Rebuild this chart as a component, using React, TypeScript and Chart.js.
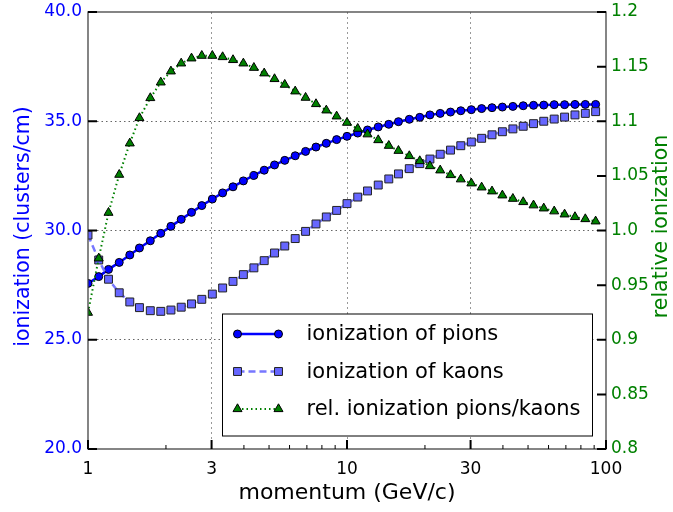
import React, { useEffect, useRef } from 'react';
import { Chart, registerables } from 'chart.js';

Chart.register(...registerables);

// momentum (GeV/c)
const momentum = [
  1.0, 1.1, 1.2, 1.32, 1.45, 1.58, 1.74, 1.91, 2.09, 2.29,
  2.51, 2.75, 3.02, 3.31, 3.63, 3.98, 4.37, 4.79, 5.25, 5.75,
  6.31, 6.92, 7.59, 8.32, 9.12, 10.0, 11.0, 12.0, 13.2, 14.5,
  15.8, 17.4, 19.1, 20.9, 22.9, 25.1, 27.5, 30.2, 33.1, 36.3,
  39.8, 43.7, 47.9, 52.5, 57.5, 63.1, 69.2, 75.9, 83.2, 91.2,
];

// ionization of pions (clusters/cm)
const pionIonization = [
  27.58, 27.89, 28.22, 28.54, 28.88, 29.2, 29.53, 29.87, 30.19, 30.51,
  30.83, 31.14, 31.44, 31.72, 32.0, 32.27, 32.52, 32.76, 33.0, 33.21,
  33.42, 33.62, 33.82, 33.99, 34.16, 34.31, 34.46, 34.6, 34.74, 34.86,
  34.98, 35.09, 35.18, 35.29, 35.36, 35.42, 35.48, 35.53, 35.58, 35.62,
  35.65, 35.68, 35.71, 35.73, 35.74, 35.76, 35.76, 35.77, 35.77, 35.77,
];

// ionization of kaons (clusters/cm)
const kaonIonization = [
  29.79, 28.65, 27.77, 27.15, 26.73, 26.47, 26.33, 26.3, 26.36, 26.49,
  26.64, 26.85, 27.09, 27.37, 27.67, 27.98, 28.29, 28.62, 28.97, 29.29,
  29.63, 29.96, 30.3, 30.62, 30.92, 31.23, 31.53, 31.81, 32.08, 32.36,
  32.59, 32.83, 33.06, 33.27, 33.49, 33.68, 33.88, 34.05, 34.22, 34.38,
  34.52, 34.65, 34.77, 34.89, 35.0, 35.1, 35.19, 35.29, 35.36, 35.44,
];

// relative ionization pions/kaons
const relativeIonization = [
  0.9248, 0.9745, 1.0163, 1.0511, 1.0798, 1.103, 1.1213, 1.1356, 1.1457, 1.153,
  1.1576, 1.16, 1.16, 1.1588, 1.1561, 1.153, 1.149, 1.1439, 1.1387, 1.1335,
  1.1274, 1.1216, 1.1158, 1.11, 1.1045, 1.0987, 1.0932, 1.0881, 1.0828, 1.0776,
  1.073, 1.0682, 1.0636, 1.059, 1.0551, 1.0508, 1.0469, 1.0432, 1.0395, 1.0359,
  1.0322, 1.0291, 1.0261, 1.0231, 1.0203, 1.0176, 1.0148, 1.0124, 1.0105, 1.0084,
];

const seriesLabels = ['ionization of pions', 'ionization of kaons', 'rel. ionization pions/kaons'];
const xMajorTicks = [1, 3, 10, 30, 100];
const xMinorTicks = [2, 4, 5, 6, 7, 8, 9, 20, 40, 50, 60, 70, 80, 90];
const leftTicks = [20, 25, 30, 35, 40];
const rightTicks = [0.8, 0.85, 0.9, 0.95, 1.0, 1.05, 1.1, 1.15, 1.2];

const FONT = '"DejaVu Sans", sans-serif';
const BLUE = '#0000ff';
const GREEN = '#008000';

function drawMarker(ctx: CanvasRenderingContext2D, style: string, r: number, x: number, y: number, fill: string, stroke: string, bw: number) {
  ctx.beginPath();
  if (style === 'circle') {
    ctx.arc(x, y, r, 0, Math.PI * 2);
  } else if (style === 'rect') {
    const s = r * Math.SQRT1_2;
    ctx.rect(x - s, y - s, 2 * s, 2 * s);
  } else if (style === 'triangle') {
    ctx.moveTo(x, y - r);
    ctx.lineTo(x + 0.866 * r, y + 0.5 * r);
    ctx.lineTo(x - 0.866 * r, y + 0.5 * r);
    ctx.closePath();
  }
  ctx.fillStyle = fill;
  ctx.fill();
  ctx.lineWidth = bw;
  ctx.strokeStyle = stroke;
  ctx.setLineDash([]);
  ctx.stroke();
}

const zeroPad = (scale: any) => {
  scale.paddingTop = 0;
  scale.paddingBottom = 0;
  scale.paddingLeft = 0;
  scale.paddingRight = 0;
};

const framePlugin = {
  id: 'frameTicks',
  afterDatasetsDraw(chart: any) {
    const { ctx, chartArea: a, scales } = chart;
    ctx.save();
    ctx.setLineDash([]);
    ctx.strokeStyle = '#444';
    ctx.lineWidth = 1.3;
    ctx.strokeRect(a.left, a.top, a.right - a.left, a.bottom - a.top);
    ctx.strokeStyle = '#000';
    ctx.lineWidth = 2;
    ctx.beginPath();
    leftTicks.forEach((v) => {
      const y = scales.y.getPixelForValue(v);
      ctx.moveTo(a.left, y);
      ctx.lineTo(a.left + 9, y);
    });
    rightTicks.forEach((v) => {
      const y = scales.y2.getPixelForValue(v);
      ctx.moveTo(a.right - 9, y);
      ctx.lineTo(a.right, y);
    });
    xMajorTicks.forEach((v) => {
      const x = scales.x.getPixelForValue(v);
      ctx.moveTo(x, a.bottom);
      ctx.lineTo(x, a.bottom - 9);
    });
    ctx.stroke();
    ctx.lineWidth = 1;
    ctx.beginPath();
    xMinorTicks.forEach((v) => {
      const x = scales.x.getPixelForValue(v);
      ctx.moveTo(x, a.bottom);
      ctx.lineTo(x, a.bottom - 4);
    });
    ctx.stroke();

    // axis titles
    ctx.font = `20.5px ${FONT}`;
    ctx.textAlign = 'center';
    ctx.textBaseline = 'middle';
    const midY = (a.top + a.bottom) / 2;
    ctx.fillStyle = BLUE;
    ctx.save();
    ctx.translate(24, midY - 4);
    ctx.rotate(-Math.PI / 2);
    ctx.fillText('ionization (clusters/cm)', 0, 0);
    ctx.restore();
    ctx.fillStyle = GREEN;
    ctx.save();
    ctx.translate(662, midY - 4);
    ctx.rotate(-Math.PI / 2);
    ctx.fillText('relative ionization', 0, 0);
    ctx.restore();
    ctx.fillStyle = '#000';
    ctx.font = `22px ${FONT}`;
    ctx.fillText('momentum (GeV/c)', (a.left + a.right) / 2, 493);
    ctx.restore();
  },
};

const legendPlugin = {
  id: 'boxLegend',
  afterDraw(chart: any) {
    const { ctx, chartArea: a } = chart;
    const w = 370;
    const h = 122;
    const x0 = a.right - 13.5 - w;
    const y0 = a.bottom - 13 - h;
    ctx.save();
    ctx.fillStyle = '#fff';
    ctx.fillRect(x0, y0, w, h);
    ctx.strokeStyle = '#000';
    ctx.lineWidth = 1;
    ctx.setLineDash([]);
    ctx.strokeRect(x0, y0, w, h);
    chart.data.datasets.forEach((ds: any, i: number) => {
      const cy = y0 + 20 + i * 37.5;
      const lx1 = x0 + 15;
      const lx2 = x0 + 56;
      ctx.beginPath();
      ctx.setLineDash(ds.borderDash || []);
      ctx.strokeStyle = ds.borderColor;
      ctx.lineWidth = ds.borderWidth;
      ctx.moveTo(lx1, cy);
      ctx.lineTo(lx2, cy);
      ctx.stroke();
      ctx.setLineDash([]);
      [lx1, lx2].forEach((px) =>
        drawMarker(ctx, ds.pointStyle, ds.pointRadius, px, cy, ds.pointBackgroundColor, ds.pointBorderColor, ds.pointBorderWidth)
      );
      ctx.fillStyle = '#000';
      ctx.font = `21px ${FONT}`;
      ctx.textAlign = 'left';
      ctx.textBaseline = 'middle';
      ctx.fillText(ds.label, x0 + 84, cy + 1);
    });
    ctx.restore();
  },
};

export default function App() {
  const canvasRef = useRef<HTMLCanvasElement | null>(null);

  useEffect(() => {
    const canvas = canvasRef.current;
    if (!canvas) return;
    const toPts = (ys: number[]) => momentum.map((x, i) => ({ x, y: ys[i] }));
    const chart = new Chart(canvas, {
      type: 'line',
      data: {
        datasets: [
          {
            label: seriesLabels[0],
            data: toPts(pionIonization),
            yAxisID: 'y',
            borderColor: BLUE,
            borderWidth: 2.5,
            pointStyle: 'circle',
            pointRadius: 4,
            pointBackgroundColor: BLUE,
            pointBorderColor: '#000',
            pointBorderWidth: 1,
            order: 3,
          },
          {
            label: seriesLabels[1],
            data: toPts(kaonIonization),
            yAxisID: 'y',
            borderColor: '#7777ff',
            borderWidth: 2.5,
            borderDash: [7, 4],
            pointStyle: 'rect',
            pointRadius: 5.6,
            pointBackgroundColor: '#6666ff',
            pointBorderColor: '#222',
            pointBorderWidth: 1,
            order: 2,
          },
          {
            label: seriesLabels[2],
            data: toPts(relativeIonization),
            yAxisID: 'y2',
            borderColor: GREEN,
            borderWidth: 2,
            borderDash: [1.5, 3],
            pointStyle: 'triangle',
            pointRadius: 5.2,
            pointBackgroundColor: GREEN,
            pointBorderColor: '#000',
            pointBorderWidth: 1,
            order: 1,
          },
        ] as any,
      },
      options: {
        responsive: false,
        animation: false,
        events: [],
        layout: { padding: { top: 12, left: 0, right: 0, bottom: 0 } },
        plugins: { legend: { display: false }, tooltip: { enabled: false } },
        elements: { line: { tension: 0 } },
        scales: {
          x: {
            type: 'logarithmic',
            min: 1,
            max: 100,
            afterBuildTicks: (scale: any) => {
              scale.ticks = [...xMajorTicks, ...xMinorTicks].sort((p, q) => p - q).map((v) => ({ value: v }));
            },
            afterFit: (scale: any) => {
              scale.height = 63;
              zeroPad(scale);
            },
            ticks: {
              autoSkip: false,
              maxRotation: 0,
              padding: 10,
              color: '#000',
              font: { family: FONT, size: 17 },
              callback: (v: any) => (xMajorTicks.includes(Number(v)) ? String(v) : ''),
            },
            grid: {
              drawTicks: false,
              color: (c: any) => ([3, 10, 30].includes(c.tick && c.tick.value) ? '#999' : 'rgba(0,0,0,0)'),
              lineWidth: 1,
            },
            border: { display: false, dash: [2, 3] },
          },
          y: {
            type: 'linear',
            position: 'left',
            min: 20,
            max: 40,
            afterBuildTicks: (scale: any) => {
              scale.ticks = leftTicks.map((v) => ({ value: v }));
            },
            afterFit: (scale: any) => {
              scale.width = 88;
              zeroPad(scale);
            },
            ticks: {
              padding: 6,
              color: BLUE,
              font: { family: FONT, size: 17 },
              callback: (v: any) => Number(v).toFixed(1),
            },
            grid: {
              drawTicks: false,
              color: (c: any) => ([25, 30, 35].includes(c.tick && c.tick.value) ? '#666' : 'rgba(0,0,0,0)'),
              lineWidth: 1,
            },
            border: { display: false, dash: [1.5, 3] },
          },
          y2: {
            type: 'linear',
            position: 'right',
            min: 0.8,
            max: 1.2,
            afterBuildTicks: (scale: any) => {
              scale.ticks = rightTicks.map((v) => ({ value: v }));
            },
            afterFit: (scale: any) => {
              scale.width = 67;
              zeroPad(scale);
            },
            ticks: {
              padding: 5,
              color: GREEN,
              font: { family: FONT, size: 17 },
              callback: (v: any) => {
                const s = String(Math.round(Number(v) * 100) / 100);
                return s.includes('.') ? s : s + '.0';
              },
            },
            grid: { drawOnChartArea: false, drawTicks: false },
            border: { display: false },
          },
        },
      } as any,
      plugins: [framePlugin, legendPlugin],
    });
    return () => chart.destroy();
  }, []);

  return (
    <div style={{ position: 'fixed', left: 0, top: 0, width: 673, height: 512, background: '#fff' }}>
      <canvas ref={canvasRef} width={673} height={512} style={{ display: 'block' }} />
    </div>
  );
}
